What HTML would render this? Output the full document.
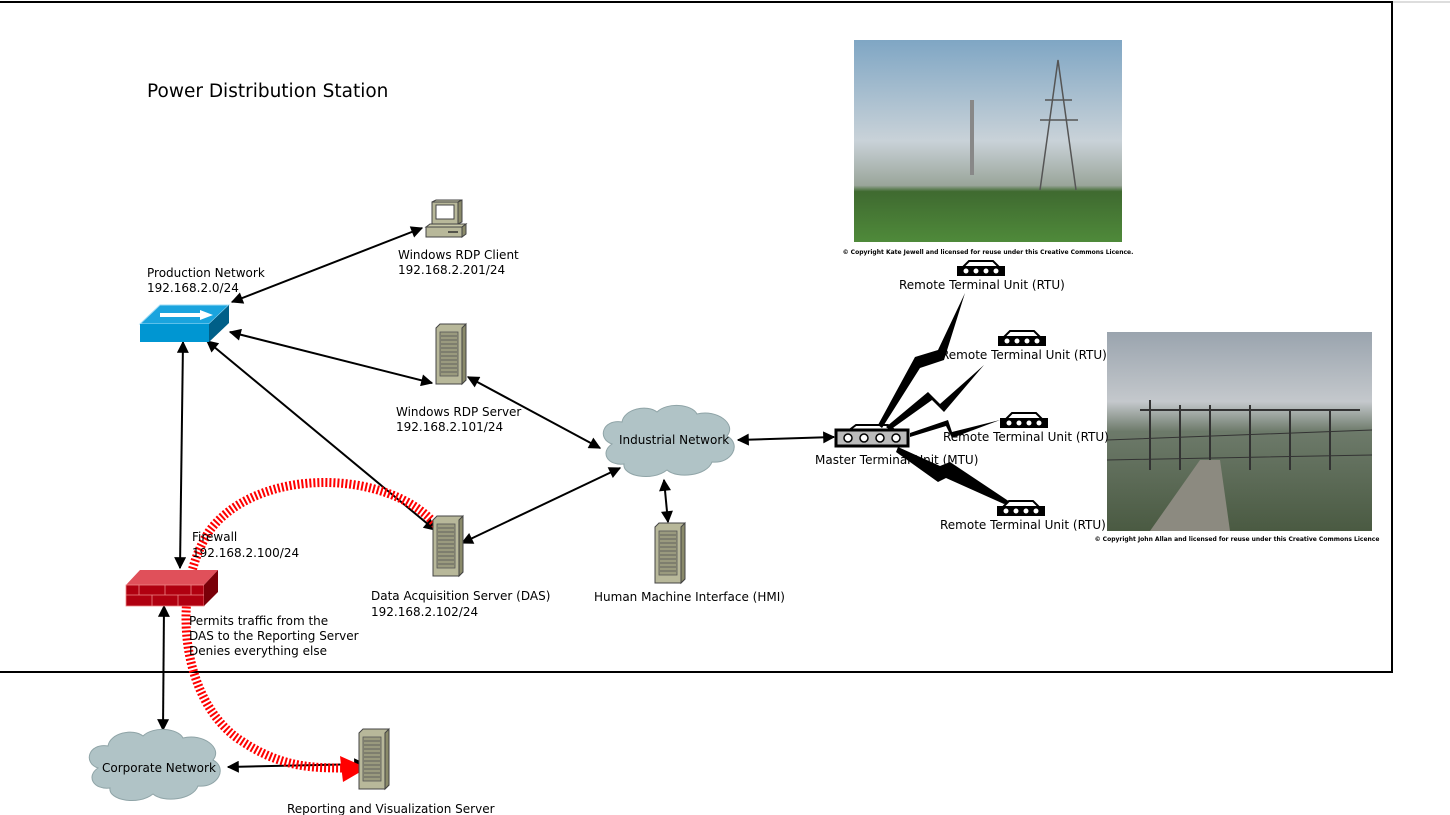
<!DOCTYPE html>
<html><head><meta charset="utf-8"><style>
body{margin:0;background:#fff;}
svg{display:block;font-family:"DejaVu Sans","Liberation Sans",sans-serif;}
</style></head><body>
<svg width="1450" height="815" viewBox="0 0 1450 815" xmlns="http://www.w3.org/2000/svg">
<defs>
<marker id="a" viewBox="0 0 10 10" refX="9" refY="5" markerWidth="14" markerHeight="12" markerUnits="userSpaceOnUse" orient="auto-start-reverse"><path d="M0,0 L10,5 L0,10 Z" fill="#000"/></marker>
<linearGradient id="sky1" x1="0" y1="0" x2="0" y2="1"><stop offset="0" stop-color="#7fa6c4"/><stop offset="0.5" stop-color="#c9d2d8"/><stop offset="0.72" stop-color="#9aa59a"/><stop offset="0.75" stop-color="#3f6a30"/><stop offset="1" stop-color="#4f8a3a"/></linearGradient>
<linearGradient id="sky2" x1="0" y1="0" x2="0" y2="1"><stop offset="0" stop-color="#9aa4ae"/><stop offset="0.35" stop-color="#c4c8cc"/><stop offset="0.5" stop-color="#6d7a6a"/><stop offset="1" stop-color="#4a5a42"/></linearGradient>
<g id="srv"><path d="M0,4 L4,0 L30,0 L30,56 L26,60 L0,60 Z" fill="#b8b89a" stroke="#444" stroke-width="1"/><path d="M26,4 L30,0 L30,56 L26,60 Z" fill="#8a8a6a" stroke="#444"/><rect x="4" y="8" width="18" height="44" fill="#9a9a7e" stroke="#555" stroke-width="0.8"/><g stroke="#555" stroke-width="0.8"><line x1="5" y1="12" x2="21" y2="12"/><line x1="5" y1="16" x2="21" y2="16"/><line x1="5" y1="20" x2="21" y2="20"/><line x1="5" y1="24" x2="21" y2="24"/><line x1="5" y1="28" x2="21" y2="28"/><line x1="5" y1="32" x2="21" y2="32"/><line x1="5" y1="36" x2="21" y2="36"/><line x1="5" y1="40" x2="21" y2="40"/><line x1="5" y1="44" x2="21" y2="44"/><line x1="5" y1="48" x2="21" y2="48"/></g></g>
<g id="rtu"><path d="M6,6 L12,0 L36,0 L42,6" fill="#fff" stroke="#000" stroke-width="2"/><rect x="0" y="5" width="48" height="10" fill="#000"/><g fill="#fff"><circle cx="9" cy="10" r="2.5"/><circle cx="19" cy="10" r="2.5"/><circle cx="29" cy="10" r="2.5"/><circle cx="39" cy="10" r="2.5"/></g></g>
<path id="cloud" d="M10,40 C-5,35 0,15 20,18 C22,5 45,0 55,8 C65,-2 90,0 95,10 C115,5 135,20 125,32 C140,40 130,60 110,58 C105,72 75,75 65,66 C50,78 20,72 22,60 C5,62 -2,48 10,40 Z" fill="#b0c3c6" stroke="#8fa4a7" stroke-width="1"/>
</defs>

<line x1="0" y1="2" x2="1450" y2="2" stroke="#bbb" stroke-width="1"/>
<rect x="-2" y="2" width="1394" height="670" fill="none" stroke="#000" stroke-width="2"/>

<text x="147" y="97" font-size="18.5">Power Distribution Station</text>

<rect x="854" y="40" width="268" height="202" fill="url(#sky1)"/>
<g stroke="#555" fill="none" stroke-width="1.5"><path d="M1040,190 L1058,60 L1076,190 M1045,100 L1072,100 M1040,120 L1078,120"/><line x1="972" y1="100" x2="972" y2="175" stroke-width="4" stroke="#888"/></g>
<text x="988" y="254" font-size="6" text-anchor="middle" font-weight="bold">© Copyright Kate Jewell and licensed for reuse under this Creative Commons Licence.</text>
<rect x="1107" y="332" width="265" height="199" fill="url(#sky2)"/>
<g stroke="#333" stroke-width="2" fill="none"><path d="M1150,400 L1150,470 M1180,405 L1180,470 M1210,405 L1210,470 M1250,405 L1250,470 M1290,410 L1290,470 M1330,410 L1330,470 M1140,410 L1360,410"/><path d="M1107,440 L1372,430 M1107,460 L1372,455" stroke-width="1"/></g>
<path d="M1150,531 L1200,460 L1220,460 L1230,531 Z" fill="#8c8a80"/>
<text x="1237" y="541" font-size="6" text-anchor="middle" font-weight="bold">© Copyright John Allan and licensed for reuse under this Creative Commons Licence</text>

<g stroke="#000" stroke-width="2" fill="none">
<line x1="232" y1="302" x2="422" y2="228" marker-start="url(#a)" marker-end="url(#a)"/>
<line x1="230" y1="332" x2="432" y2="383" marker-start="url(#a)" marker-end="url(#a)"/>
<line x1="207" y1="341" x2="435" y2="530" marker-start="url(#a)" marker-end="url(#a)"/>
<line x1="183" y1="342" x2="180" y2="568" marker-start="url(#a)" marker-end="url(#a)"/>
<line x1="164" y1="606" x2="163" y2="730" marker-start="url(#a)" marker-end="url(#a)"/>
<line x1="468" y1="377" x2="600" y2="448" marker-start="url(#a)" marker-end="url(#a)"/>
<line x1="462" y1="543" x2="620" y2="468" marker-start="url(#a)" marker-end="url(#a)"/>
<line x1="664" y1="480" x2="668" y2="522" marker-start="url(#a)" marker-end="url(#a)"/>
<line x1="738" y1="440" x2="834" y2="437" marker-start="url(#a)" marker-end="url(#a)"/>
<line x1="228" y1="767" x2="365" y2="764" marker-start="url(#a)" marker-end="url(#a)"/>
</g>

<path d="M436,525 C390,470 260,465 210,530 C170,590 180,700 240,740 C280,767 310,768 345,768" fill="none" stroke="#f00" stroke-width="9" stroke-dasharray="2,2"/>
<path d="M340,756 L367,768 L343,782 Z" fill="#f00"/>

<path d="M140,324 L160,305 L229,305 L209,324 Z" fill="#1aa4de" stroke="#9fdcf5"/>
<path d="M140,324 L209,324 L209,342 L140,342 Z" fill="#0096d2"/>
<path d="M209,324 L229,305 L229,323 L209,342 Z" fill="#005f88"/>
<path d="M160,313 L200,313 L200,310 L213,315 L200,320 L200,317 L160,317 Z" fill="#fff"/>

<path d="M126,585 L140,570 L218,570 L204,585 Z" fill="#e0505a"/>
<rect x="126" y="585" width="78" height="21" fill="#b00010" stroke="#e88" stroke-width="0.8"/>
<path d="M204,585 L218,570 L218,592 L204,606 Z" fill="#7a0008"/>
<g stroke="#e88" stroke-width="0.8"><line x1="126" y1="595" x2="204" y2="595"/><line x1="139" y1="585" x2="139" y2="595"/><line x1="152" y1="595" x2="152" y2="606"/><line x1="165" y1="585" x2="165" y2="595"/><line x1="178" y1="595" x2="178" y2="606"/><line x1="191" y1="585" x2="191" y2="595"/></g>

<g transform="translate(426,200)"><path d="M6,2 L10,0 L36,0 L32,2 Z" fill="#c8c8a8" stroke="#444"/><rect x="6" y="2" width="26" height="22" fill="#b8b89a" stroke="#444"/><rect x="10" y="5" width="18" height="14" fill="#fff" stroke="#444"/><path d="M32,2 L36,0 L36,22 L32,24 Z" fill="#8a8a6a" stroke="#444"/><path d="M0,27 L4,24 L40,24 L36,27 Z" fill="#c8c8a8" stroke="#444"/><rect x="0" y="27" width="36" height="10" fill="#b8b89a" stroke="#444"/><path d="M36,27 L40,24 L40,34 L36,37 Z" fill="#8a8a6a" stroke="#444"/><line x1="22" y1="32" x2="32" y2="32" stroke="#333" stroke-width="1.5"/></g>

<use href="#srv" x="436" y="324"/>
<use href="#srv" x="433" y="516"/>
<use href="#srv" x="655" y="523"/>
<use href="#srv" x="359" y="729"/>

<use href="#cloud" x="602" y="404"/>
<use href="#cloud" x="88" y="728"/>

<path d="M848,431 L856,425 L888,425 L896,431" fill="#fff" stroke="#000" stroke-width="2"/>
<rect x="836" y="430" width="72" height="16" fill="#bbb" stroke="#000" stroke-width="3"/>
<g fill="#fff" stroke="#000" stroke-width="1.5"><circle cx="848" cy="438" r="4"/><circle cx="864" cy="438" r="4"/><circle cx="880" cy="438" r="4"/><circle cx="896" cy="438" r="4"/></g>

<g fill="#000">
<path d="M878,425 L915,357 L938,350 L965,293 L944,360 L920,368 L882,428 Z"/>
<path d="M886,427 L928,392 L940,404 L984,365 L944,412 L932,400 L890,430 Z"/>
<path d="M910,433 L948,420 L952,432 L1000,420 L952,438 L946,426 L910,437 Z"/>
<path d="M898,447 L940,466 L950,462 L1010,502 L1004,504 L946,478 L938,482 L896,452 Z"/>
</g>
<use href="#rtu" x="957" y="261"/>
<use href="#rtu" x="998" y="331"/>
<use href="#rtu" x="1000" y="413"/>
<use href="#rtu" x="997" y="501"/>

<g font-size="12" fill="#000">
<text x="147" y="277">Production Network</text><text x="147" y="292">192.168.2.0/24</text>
<text x="398" y="259">Windows RDP Client</text><text x="398" y="274">192.168.2.201/24</text>
<text x="396" y="416">Windows RDP Server</text><text x="396" y="431">192.168.2.101/24</text>
<text x="192" y="541">Firewall</text><text x="192" y="557">192.168.2.100/24</text>
<text x="189" y="625">Permits traffic from the</text><text x="189" y="640">DAS to the Reporting Server</text><text x="189" y="655">Denies everything else</text>
<text x="371" y="600">Data Acquisition Server (DAS)</text><text x="371" y="616">192.168.2.102/24</text>
<text x="594" y="601">Human Machine Interface (HMI)</text>
<text x="619" y="444">Industrial Network</text>
<text x="102" y="772">Corporate Network</text>
<text x="287" y="813">Reporting and Visualization Server</text>
<text x="815" y="464">Master Terminal Unit (MTU)</text>
<text x="899" y="289">Remote Terminal Unit (RTU)</text>
<text x="941" y="359">Remote Terminal Unit (RTU)</text>
<text x="943" y="441">Remote Terminal Unit (RTU)</text>
<text x="940" y="529">Remote Terminal Unit (RTU)</text>
</g>
</svg>
</body></html>
